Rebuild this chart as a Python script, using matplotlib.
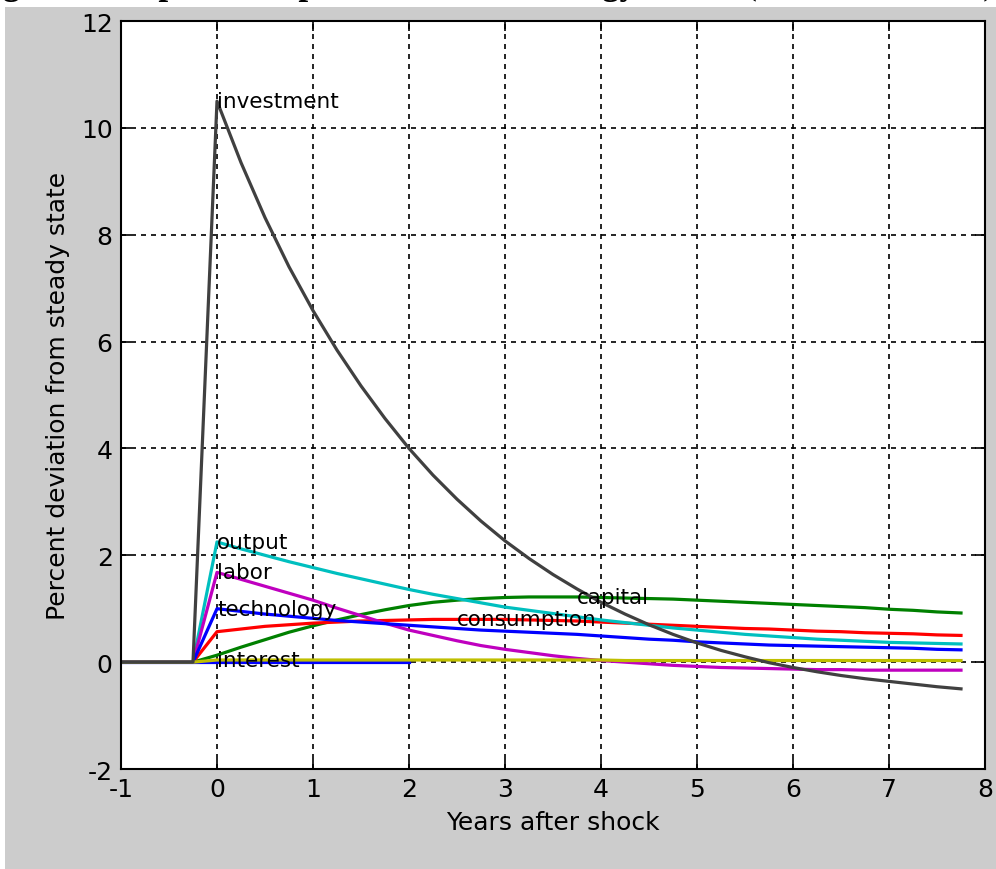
import matplotlib
matplotlib.use('Agg')
import matplotlib.pyplot as plt
import numpy as np
from matplotlib.patches import Rectangle

plt.rcParams['axes.unicode_minus'] = False

# quarters from -1 to 7.75 years
quarters = np.arange(-1, 8, 0.25)

investment = [0, 0, 0, 0,
              10.5, 9.35, 8.32, 7.4, 6.58, 5.84, 5.17, 4.56, 4.0, 3.5, 3.05, 2.64,
              2.27, 1.94, 1.64, 1.37, 1.12, 0.9, 0.7, 0.52, 0.36, 0.22, 0.1, -0.01,
              -0.1, -0.18, -0.25, -0.31, -0.36, -0.41, -0.46, -0.5]
output = [0, 0, 0, 0,
          2.25, 2.12, 2.0, 1.88, 1.77, 1.66, 1.56, 1.46, 1.36, 1.27, 1.19, 1.11,
          1.03, 0.97, 0.91, 0.85, 0.79, 0.74, 0.69, 0.64, 0.6, 0.56, 0.52, 0.49,
          0.46, 0.43, 0.41, 0.39, 0.37, 0.36, 0.35, 0.34]
labor = [0, 0, 0, 0,
         1.68, 1.55, 1.42, 1.29, 1.16, 1.01, 0.87, 0.73, 0.6, 0.5, 0.4, 0.31,
         0.24, 0.18, 0.12, 0.07, 0.03, 0.0, -0.03, -0.06, -0.08, -0.1, -0.11, -0.12,
         -0.13, -0.14, -0.14, -0.15, -0.15, -0.15, -0.15, -0.15]
technology = [0, 0, 0, 0,
              1.0, 0.95, 0.9, 0.86, 0.82, 0.78, 0.75, 0.72, 0.69, 0.66, 0.63, 0.6,
              0.58, 0.56, 0.54, 0.52, 0.49, 0.46, 0.43, 0.41, 0.38, 0.36, 0.34, 0.32,
              0.31, 0.3, 0.29, 0.28, 0.27, 0.26, 0.24, 0.23]
consumption = [0, 0, 0, 0,
               0.57, 0.62, 0.67, 0.7, 0.73, 0.75, 0.77, 0.78, 0.79, 0.8, 0.8, 0.8,
               0.8, 0.79, 0.78, 0.77, 0.75, 0.73, 0.71, 0.69, 0.67, 0.65, 0.63, 0.62,
               0.6, 0.58, 0.57, 0.55, 0.54, 0.53, 0.51, 0.5]
capital = [0, 0, 0, 0,
           0.13, 0.28, 0.42, 0.56, 0.68, 0.79, 0.89, 0.98, 1.06, 1.12, 1.16, 1.19,
           1.21, 1.22, 1.22, 1.22, 1.21, 1.2, 1.19, 1.18, 1.16, 1.14, 1.12, 1.1,
           1.08, 1.06, 1.04, 1.02, 0.99, 0.97, 0.94, 0.92]
interest = [0, 0, 0, 0,
            0.04, 0.04, 0.04, 0.04, 0.04, 0.04, 0.04, 0.04, 0.04, 0.04, 0.04, 0.04,
            0.04, 0.04, 0.04, 0.04, 0.04, 0.03, 0.03, 0.03, 0.03, 0.03, 0.03, 0.03,
            0.03, 0.03, 0.03, 0.03, 0.03, 0.03, 0.03, 0.03]
zero_x = [-1, 2]
zero_y = [0, 0]

fig = plt.figure(figsize=(9.96, 8.7), dpi=100)
fig.patch.set_facecolor('white')
fig.patches.append(Rectangle((5/996, 0), 1, 1 - 8/870, transform=fig.transFigure,
                             facecolor='#cccccc', edgecolor='none', zorder=-1))

# title cut off at top of image, only descenders show
fig.text(995/996, 1.0 + 6/870, 'Figure 1: Impulse Responses to a Technology Shock (Baseline Model)',
         ha='right', va='baseline', fontsize=25, family='Liberation Serif', fontweight='bold')

ax = fig.add_axes([121/996, 1 - 770/870, 864/996, 748/870])
ax.set_facecolor('white')

lw = 2.3
ax.plot(quarters, capital, color='#008000', lw=lw)
ax.plot(quarters, consumption, color='#ff0000', lw=lw)
ax.plot(quarters, output, color='#00bfbf', lw=lw)
ax.plot(quarters, labor, color='#bf00bf', lw=lw)
ax.plot(quarters, technology, color='#0000ff', lw=lw)
ax.plot(zero_x, zero_y, color='#0000ff', lw=lw)
ax.plot(quarters, interest, color='#bfbf00', lw=lw)
ax.plot(quarters, investment, color='#404040', lw=lw)

font = ['Liberation Sans Narrow', 'DejaVu Sans']
fs = 15.5
ax.text(0, investment[4], 'investment', va='center', ha='left', fontsize=fs, family=font)
ax.text(0, output[4], 'output', va='center', ha='left', fontsize=fs, family=font)
ax.text(0, labor[4], 'labor', va='center', ha='left', fontsize=fs, family=font)
ax.text(0, technology[4], 'technology', va='center', ha='left', fontsize=fs, family=font)
ax.text(0, interest[4], 'interest', va='center', ha='left', fontsize=fs, family=font)
ax.text(2.5, consumption[14], 'consumption', va='center', ha='left', fontsize=fs, family=font)
ax.text(3.75, capital[19], 'capital', va='center', ha='left', fontsize=fs, family=font)

ax.set_xlim(-1, 8)
ax.set_ylim(-2, 12)
ax.set_xticks(range(-1, 9))
ax.set_yticks(range(-2, 13, 2))
ax.grid(True, color='black', linestyle=(0, (3, 3)), linewidth=1.2)
ax.tick_params(direction='in', length=7, width=1.2, top=True, right=True,
               labelsize=18, pad=6)
for lab in ax.get_xticklabels() + ax.get_yticklabels():
    lab.set_family(font)
for s in ax.spines.values():
    s.set_linewidth(1.5)

ax.set_xlabel('Years after shock', fontsize=18, family=font, labelpad=6)
ax.set_ylabel('Percent deviation from steady state', fontsize=18, family=font, labelpad=8)

fig.savefig('out.png', dpi=100)
